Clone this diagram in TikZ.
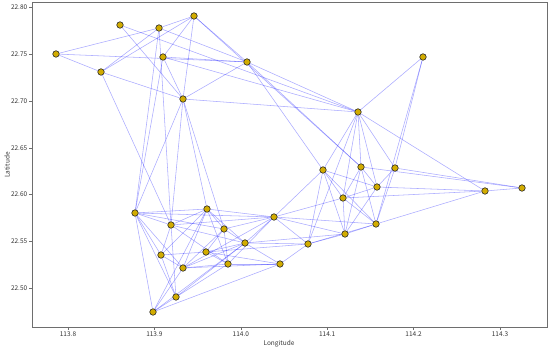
\documentclass[tikz,border=0pt]{standalone}
\usepackage{fontspec}
\newfontfamily\axisfont{Noto Sans CJK SC}
\usetikzlibrary{backgrounds}
\definecolor{stngold}{RGB}{210,172,0}
\definecolor{spine}{RGB}{110,110,110}

\begin{document}
\begin{tikzpicture}[
  x=1pt, y=1pt,
  font=\axisfont\fontsize{6.5}{7}\selectfont,
  stn/.style={circle, draw=black!85, line width=0.6pt, fill=stngold,
    inner sep=0pt, minimum size=6.5pt},
  link/.style={draw=blue, line width=0.55pt, opacity=0.33},
  axis/.style={draw=spine, line width=0.7pt},
  tick/.style={draw=spine, line width=0.5pt},
  ticklbl/.style={text=black!80, inner sep=1.5pt},
]
  \useasboundingbox (0,0) rectangle (550,350);

  % axes frame
  \draw[axis] (32,23) rectangle (547,348);
  \foreach \x/\l in {68/113.8, 154.4/113.9, 240.8/114.0, 327.2/114.1, 413.6/114.2, 500/114.3}
    \draw[tick] (\x,23) -- (\x,20) node[ticklbl, below] {\l};
  \foreach \y/\l in {343/22.80, 296/22.75, 249/22.70, 202/22.65, 156/22.60, 109/22.55, 62/22.50}
    \draw[tick] (32,\y) -- (29,\y) node[ticklbl, left] {\l};
  \node[ticklbl] (xlab) at (279,6) {Longitude};
  \node[ticklbl, rotate=90] (ylab) at (7,185) {Latitude};

  % stations
  \node[stn] (a)  at (56,296) {};
  \node[stn] (b)  at (101,278) {};
  \node[stn] (c)  at (120,325) {};
  \node[stn] (d)  at (159,322) {};
  \node[stn] (e)  at (194,334) {};
  \node[stn] (f)  at (163,293) {};
  \node[stn] (g)  at (183,251) {};
  \node[stn] (h)  at (247,288) {};
  \node[stn] (i)  at (423,293) {};
  \node[stn] (j)  at (358,238) {};
  \node[stn] (k)  at (323,180) {};
  \node[stn] (l)  at (361,183) {};
  \node[stn] (m)  at (395,182) {};
  \node[stn] (n)  at (377,163) {};
  \node[stn] (o)  at (343,152) {};
  \node[stn] (p)  at (485,159) {};
  \node[stn] (q)  at (522,162) {};
  \node[stn] (r)  at (274,133) {};
  \node[stn] (s)  at (376,126) {};
  \node[stn] (t)  at (345,116) {};
  \node[stn] (u)  at (308,106) {};
  \node[stn] (v)  at (280,86) {};
  \node[stn] (w)  at (135,137) {};
  \node[stn] (x)  at (171,125) {};
  \node[stn] (y)  at (207,141) {};
  \node[stn] (z)  at (224,121) {};
  \node[stn] (aa) at (245,107) {};
  \node[stn] (ab) at (206,98) {};
  \node[stn] (ac) at (161,95) {};
  \node[stn] (ad) at (183,82) {};
  \node[stn] (ae) at (228,86) {};
  \node[stn] (af) at (176,53) {};
  \node[stn] (ag) at (153,38) {};

  % links
  \begin{pgfonlayer}{background}
    \foreach \s/\tlist in {
      a/{d,b,h}, b/{d,e,g,x}, c/{g,j}, d/{e,h,w,x}, e/{f,g,h,l},
      f/{g,h,j,w}, g/{h,j,w,x,y,z}, h/{j,k,l}, i/{j,m,s},
      j/{k,l,m,n,o,p,u}, k/{o,r,s,t,n,u}, l/{n,o,q,s,t}, m/{n,q,s},
      n/{o,p,t}, o/{p,r,s,t}, p/{q,s},
      r/{s,t,u,w,x,y,z,aa,ad,ae}, s/{t,u}, t/{u,aa}, u/{v,aa,ab},
      v/{aa,ab,ad,ae,ag}, w/{x,y,z,ac,ad,af,ag}, x/{y,aa,ac,ae,af},
      y/{z,aa,ac,ad,ae,ag}, z/{aa,ab,ad,ae}, aa/{ab,ad,af,ag},
      ab/{ac,ae}, ac/{ad,af}, ad/{ae,ag}, ae/{af}, af/{ag}}
      \foreach \t in \tlist
        \draw[link] (\s) -- (\t);
  \end{pgfonlayer}
\end{tikzpicture}
\end{document}
